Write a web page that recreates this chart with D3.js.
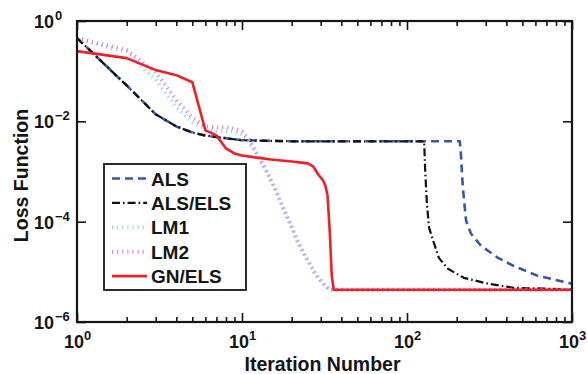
<!DOCTYPE html>
<html><head><meta charset="utf-8">
<script src="https://cdn.jsdelivr.net/npm/d3@7"></script>
<style>
body{margin:0;background:#fff}
svg{display:block}
text{font-family:"Liberation Sans",Arial,Helvetica,sans-serif;font-weight:bold;fill:#151515}
</style>
</head><body>
<svg id="chart" width="587" height="374"></svg>
<script>
// ---- data ----
const seriesNames = ["ALS", "ALS/ELS", "LM1", "LM2", "GN/ELS"];

const alsIter = [1,2,3,4,5,6,8,10,20,50,100,209,212,218,228,244,281,356,445,622,1000];
const alsLoss = [0.457,0.052,0.0138,0.0079,0.0060,0.0052,0.0046,0.0042,0.0040,0.0040,0.0040,0.0040,0.0023,0.00048,1.05e-4,5.8e-5,3.3e-5,1.9e-5,1.3e-5,8.3e-6,5.8e-6];

const alsElsIter = [1,2,3,4,5,6,8,10,20,50,127,129,132,136,144,156,177,221,310,445,716,1000];
const alsElsLoss = [0.457,0.052,0.0138,0.0079,0.0060,0.0052,0.0046,0.0042,0.0040,0.0040,0.0040,1.0e-3,2.3e-4,7.6e-5,4.2e-5,1.9e-5,1.15e-5,7.6e-6,5.8e-6,4.8e-6,4.6e-6,4.4e-6];

const lmIter = [1,2,3,4,5,6,7,8,9,10,11,12,14,16,18,20,22,25,28,30,32,34,50,100,1000];
const lm1Loss = [0.457,0.240,0.0661,0.0191,0.00955,0.00692,0.00631,0.00631,0.00631,0.00550,0.00398,0.00251,0.00105,4.37e-4,1.74e-4,7.94e-5,3.80e-5,1.74e-5,9.12e-6,6.92e-6,5.25e-6,4.4e-6,4.4e-6,4.4e-6,4.4e-6];
const lm2Loss = [0.457,0.263,0.0955,0.0263,0.0120,0.00794,0.00759,0.00759,0.00724,0.00631,0.00437,0.00263,0.00105,4.17e-4,1.66e-4,7.59e-5,3.63e-5,1.66e-5,8.71e-6,6.61e-6,5.25e-6,4.4e-6,4.4e-6,4.4e-6,4.4e-6];

const gnIter = [1,2,3,4,5,6,7,8,9,10,12,15,20,25,27,28,29,30,31,32,33,34,35,36,100,1000];
const gnLoss = [0.251,0.182,0.105,0.0832,0.0603,0.00661,0.00525,0.00288,0.00229,0.00209,0.00191,0.00174,0.00158,0.00145,0.00126,0.00105,8.71e-4,7.59e-4,6.61e-4,5.25e-4,3.31e-4,6.61e-5,8.32e-6,4.4e-6,4.4e-6,4.4e-6];

const xMajorTicks = [1,10,100,1000];
const xTickExp = ["0","1","2","3"];
const yMajorTicks = [1,1e-2,1e-4,1e-6];
const yTickExp = ["0","\u22122","\u22124","\u22126"];
const xLabel = "Iteration Number";
const yLabel = "Loss Function";

// ---- layout ----
const svg = d3.select("#chart");
const L = 77, R = 572, T = 21, B = 322;
const x = d3.scaleLog().domain([1,1000]).range([L,R]);
const y = d3.scaleLog().domain([1e-6,1]).range([B,T]);

const styles = [
  {color:"#3a56a8", width:2.6, dash:"8,5"},
  {color:"#111111", width:2.2, dash:"8,3,1.6,3"},
  {color:"#96d8e8", width:4, dash:"1.1,4"},
  {color:"#d585d5", width:4, dash:"1.1,4"},
  {color:"#ee2026", width:2.6, dash:null}
];
const series = [
  {iter:alsIter, loss:alsLoss},
  {iter:alsElsIter, loss:alsElsLoss},
  {iter:lmIter, loss:lm1Loss},
  {iter:lmIter, loss:lm2Loss},
  {iter:gnIter, loss:gnLoss}
];

svg.append("defs").append("clipPath").attr("id","clip")
  .append("rect").attr("x",L).attr("y",T).attr("width",R-L).attr("height",B-T);

const line = d3.line().x(d=>x(d[0])).y(d=>y(d[1]));
const plot = svg.append("g").attr("clip-path","url(#clip)");
series.forEach((s,i)=>{
  const pts = s.iter.map((n,k)=>[n,s.loss[k]]);
  plot.append("path").datum(pts)
    .attr("d",line).attr("fill","none")
    .attr("stroke",styles[i].color).attr("stroke-width",styles[i].width)
    .attr("stroke-dasharray",styles[i].dash)
    .attr("stroke-linejoin","round");
});

// ---- axes ----
const xMinor = [];
for (let d=1; d<1000; d*=10) for (let k=2;k<=9;k++) xMinor.push(d*k);

function styleAxis(g){
  g.select(".domain").remove();
  g.selectAll(".tick line").attr("stroke","#151515").attr("stroke-width",1.6);
}
svg.append("g").attr("transform",`translate(0,${B})`)
  .call(d3.axisBottom(x).tickValues(xMinor).tickSize(-5).tickFormat("")).call(styleAxis);
svg.append("g").attr("transform",`translate(0,${T})`)
  .call(d3.axisTop(x).tickValues(xMinor).tickSize(-5).tickFormat("")).call(styleAxis);
const xAx = svg.append("g").attr("transform",`translate(0,${B})`)
  .call(d3.axisBottom(x).tickValues(xMajorTicks).tickSize(-9).tickPadding(14).tickFormat(()=>"")).call(styleAxis);
svg.append("g").attr("transform",`translate(0,${T})`)
  .call(d3.axisTop(x).tickValues(xMajorTicks).tickSize(-9).tickFormat("")).call(styleAxis);
svg.append("g").attr("transform",`translate(${L},0)`)
  .call(d3.axisLeft(y).tickValues(yMajorTicks).tickSize(-9).tickFormat("")).call(styleAxis);
svg.append("g").attr("transform",`translate(${R},0)`)
  .call(d3.axisRight(y).tickValues(yMajorTicks).tickSize(-9).tickFormat("")).call(styleAxis);

// x tick labels with superscripts
xAx.selectAll(".tick").each(function(d,i){
  const t = d3.select(this).select("text");
  t.text(null).attr("y",null).attr("dy",null)
    .attr("transform","translate(0,26)")
    .attr("text-anchor","middle").style("font-size","18px");
  t.append("tspan").text("10");
  t.append("tspan").attr("dy",-8).style("font-size","13px").text(xTickExp[xMajorTicks.indexOf(d)]);
});

// y tick labels
yMajorTicks.forEach((v,i)=>{
  svg.append("text").attr("x",54).attr("y",y(v)+7)
    .attr("text-anchor","end").style("font-size","18px").text("10");
  svg.append("text").attr("x",55).attr("y",y(v)-1)
    .style("font-size","13px").text(yTickExp[i]);
});

// frame
svg.append("rect").attr("x",L).attr("y",T).attr("width",R-L).attr("height",B-T)
  .attr("fill","none").attr("stroke","#151515").attr("stroke-width",2.2);

// axis titles
svg.append("text").attr("x",(L+R)/2-2).attr("y",371).attr("text-anchor","middle")
  .style("font-size","19.5px").text(xLabel);
svg.append("text").attr("transform",`translate(28,${(T+B)/2+4}) rotate(-90)`)
  .attr("text-anchor","middle").style("font-size","19.5px").text(yLabel);

// legend
const lg = svg.append("g");
lg.append("rect").attr("x",104).attr("y",164).attr("width",142).attr("height",126)
  .attr("fill","#fff").attr("stroke","#151515").attr("stroke-width",1.8);
seriesNames.forEach((name,i)=>{
  const cy = 178.5 + i*24.4;
  lg.append("line").attr("x1",112).attr("x2",147).attr("y1",cy).attr("y2",cy)
    .attr("stroke",styles[i].color).attr("stroke-width",styles[i].width)
    .attr("stroke-dasharray",styles[i].dash);
  lg.append("text").attr("x",151).attr("y",cy+7).style("font-size","19px").text(name);
});
</script>
</body></html>
